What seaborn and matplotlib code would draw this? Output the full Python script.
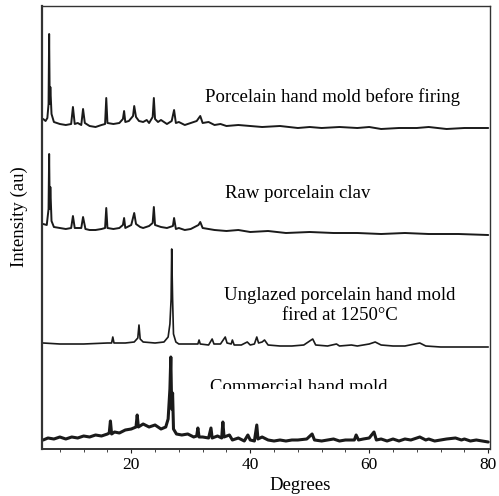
import matplotlib
matplotlib.use("Agg")
import matplotlib.pyplot as plt
import seaborn as sns
import numpy as np
import pandas as pd
from matplotlib.ticker import MultipleLocator
from matplotlib.transforms import Bbox, TransformedBbox

# ---- data (2-theta in degrees, intensity in arbitrary units) ----
before_x = [5.2, 5.6, 5.9, 6.1, 6.2, 6.3, 6.4, 6.6, 7.0, 8, 9, 9.9, 10.2, 10.5, 11, 11.6, 11.9, 12.2, 13, 14, 15,
            15.6, 15.8, 16.0, 17, 18, 18.6, 18.8, 19.0, 19.6, 20.3, 20.5, 20.8, 21.3, 22, 22.6, 23.0, 23.6, 23.8,
            24.0, 24.5, 25, 26, 26.8, 27.2, 27.5, 28, 29, 30, 31, 31.6, 32, 33, 34, 35, 36, 38, 40, 42, 45, 48,
            50, 52, 55, 58, 60, 62, 65, 68, 70, 73, 76, 80]
before_y = [15, 13, 16, 30, 100, 30, 47, 20, 12, 10, 9, 10, 27, 10, 11, 9, 25, 11, 8, 7, 9,
            10, 36, 11, 10, 11, 15, 23, 12, 13, 18, 28, 17, 13, 12, 14, 11, 17, 36,
            15, 12, 14, 10, 13, 24, 11, 12, 9, 11, 13, 18, 11, 12, 9, 10, 8, 9, 8, 7, 8, 6,
            7, 6, 7, 6, 7, 5, 6, 6, 7, 5, 6, 6]

raw_x = [5.2, 5.8, 6.1, 6.2, 6.3, 6.4, 6.6, 7, 8, 9, 9.9, 10.2, 10.5, 11.6, 11.9, 12.3, 13, 14, 15, 15.6, 15.8,
         16.0, 17, 18, 18.6, 18.8, 19.0, 20, 20.5, 20.8, 21.5, 22, 23, 23.6, 23.8, 24, 25, 26, 27.0, 27.2, 27.5,
         28, 29, 30, 31.3, 31.6, 32, 33, 34, 36, 38, 40, 43, 46, 50, 54, 58, 62, 66, 70, 75, 80]
raw_y = [15, 14, 30, 85, 30, 52, 18, 12, 11, 10, 11, 23, 11, 11, 22, 10, 9, 9, 10, 11, 31,
         11, 10, 11, 14, 21, 11, 14, 26, 15, 12, 11, 13, 16, 32, 14, 12, 11, 13, 21, 10,
         11, 9, 10, 14, 17, 11, 10, 9, 8, 9, 7, 8, 6, 7, 6, 6, 5, 6, 5, 5, 4]

unglazed_x = [5.2, 8, 12, 16, 16.7, 16.9, 17.1, 19, 20.5, 21.1, 21.3, 21.5, 22, 24, 25.5, 26.2, 26.5, 26.7, 26.8,
              26.95, 27.1, 27.5, 28, 30, 31.2, 31.4, 31.6, 33, 33.6, 33.9, 35, 35.8, 36.1, 36.8, 37, 37.3, 38.5,
              39.5, 40, 40.7, 41.1, 41.4, 42, 42.4, 43, 45, 47, 49, 50.5, 51, 53, 54.5, 55, 57, 58, 60, 61, 62,
              64, 66, 68.5, 69.5, 72, 75, 78, 80]
unglazed_y = [11, 10, 10, 11, 11, 17, 11, 11, 12, 16, 29, 15, 12, 11, 12, 17, 30, 55, 105,
              55, 20, 12, 10, 10, 10, 14, 10, 9, 15, 10, 10, 17, 11, 10, 14, 9, 9,
              12, 9, 10, 17, 11, 12, 14, 9, 8, 8, 9, 15, 9, 8, 10, 8, 9, 8, 10, 12, 9,
              8, 8, 11, 8, 7, 7, 7, 7]

commercial_x = [5.2, 6, 7, 8, 9, 10, 11, 12, 13, 14, 15, 16, 16.3, 16.5, 16.7, 17.2, 18, 19, 20, 20.8, 21.0,
                21.2, 22, 23, 24, 25, 25.8, 26.2, 26.5, 26.65, 26.8, 26.95, 27.1, 27.6, 28.5, 29.5, 30.5,
                31.0, 31.2, 31.4, 32, 33.0, 33.4, 33.6, 34.5, 35.2, 35.4, 35.6, 36.5, 37, 38, 39, 39.6, 40,
                40.7, 41.1, 41.3, 42, 43, 44, 45, 46, 47, 48, 49.5, 50.4, 50.8, 52, 53, 54, 55, 56, 57.5,
                57.8, 58.2, 59, 60, 60.8, 61.2, 62, 63, 64, 65, 66, 67, 68.5, 69.5, 70, 71, 72, 73, 74.5,
                75.5, 76, 77, 78, 79, 80]
commercial_y = [9, 11, 10, 12, 10, 12, 11, 13, 12, 14, 13, 15, 16, 28, 15, 17, 16, 19, 20, 22, 34,
                22, 25, 22, 24, 20, 22, 30, 60, 92, 40, 56, 20, 15, 14, 15, 12,
                13, 21, 12, 12, 11, 21, 11, 13, 11, 27, 12, 14, 9, 11, 8, 14, 9,
                8, 24, 10, 12, 9, 8, 9, 8, 9, 9, 10, 15, 9, 8, 9, 10, 8, 9, 9,
                14, 9, 10, 11, 17, 9, 10, 8, 10, 8, 10, 9, 12, 9, 10, 8, 9, 10, 11,
                9, 10, 8, 9, 8, 7]

series_names = ["Porcelain hand mold before firing", "Raw porcelain clav",
                "Unglazed porcelain hand mold\nfired at 1250\u00b0C", "Commercial hand mold"]
offsets = [315, 210, 95, 0]
xticks = [20, 40, 60, 80]

# ---- figure ----
sns.set_theme(style="white")
plt.rcParams["font.family"] = ["Liberation Serif", "DejaVu Serif"]

fig = plt.figure(figsize=(4.99, 4.96), dpi=100)
ax = fig.add_axes([42 / 499, 1 - 449 / 496, 448 / 499, 443 / 496])

all_x = [before_x, raw_x, unglazed_x, commercial_x]
all_y = [before_y, raw_y, unglazed_y, commercial_y]
widths = [1.4, 1.4, 1.2, 2.2]
for xs, ys, off, lw in zip(all_x, all_y, offsets, widths):
    df = pd.DataFrame({"deg": xs, "int": np.array(ys, dtype=float) + off})
    sns.lineplot(data=df, x="deg", y="int", ax=ax, color="#1a1a1a", lw=lw,
                 estimator=None, sort=False)

ax.set_xlim(5, 80.3)
ax.set_ylim(0, 443)
ax.set_xticks(xticks)
ax.xaxis.set_minor_locator(MultipleLocator(4))
ax.set_yticks([])
ax.tick_params(axis="x", which="major", direction="out", length=3, width=0.8,
               labelsize=12.5, pad=3, colors="#222222", bottom=True)
ax.tick_params(axis="x", which="minor", direction="out", length=2, width=0.6, bottom=True)
for lab in ax.get_xticklabels():
    lab.set_color("black")

for s in ax.spines.values():
    s.set_color("#333333")
    s.set_linewidth(1.0)
ax.spines["left"].set_linewidth(1.6)
ax.spines["bottom"].set_linewidth(1.4)

ax.set_xlabel("Degrees", fontsize=13.5, color="black")
ax.xaxis.label.set_verticalalignment("center")
ax.xaxis.set_label_coords((300 - 42) / 448, (449 - 486) / 443)
ax.set_ylabel("Intensity (au)", fontsize=13.5, color="black")
ax.yaxis.label.set_verticalalignment("center")
ax.yaxis.set_label_coords((19 - 42) / 448, (449 - 217) / 443)

# label positions in data coordinates
label_pos = [(53.9, 352), (48.0, 256), (55.1, 143.5), (48.2, 62)]
texts = []
for name, (lx, ly) in zip(series_names, label_pos):
    t = ax.text(lx, ly, name, fontsize=13.5, ha="center", va="center",
                color="black", linespacing=1.3)
    texts.append(t)

# the last label is cut off at its lower edge in the reference
clip = TransformedBbox(Bbox([[0, (449 - 389) / 443], [1, 1]]), ax.transAxes)
texts[-1].set_clip_box(clip)
texts[-1].set_clip_on(True)

fig.savefig("out.png", dpi=100)
